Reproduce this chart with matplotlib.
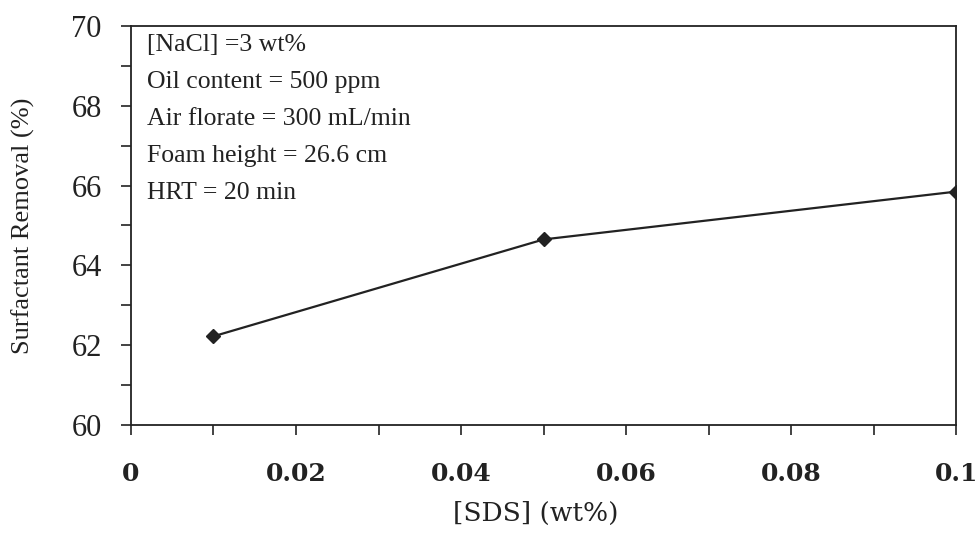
import matplotlib.pyplot as plt
from matplotlib.ticker import MultipleLocator

sds = [0.01, 0.05, 0.1]
removal = [62.22, 64.65, 65.85]

conditions = [
    "[NaCl] =3 wt%",
    "Oil content = 500 ppm",
    "Air florate = 300 mL/min",
    "Foam height = 26.6 cm",
    "HRT = 20 min",
]

plt.rcParams["font.family"] = "Liberation Serif"

fig = plt.figure(figsize=(9.77, 5.33), dpi=100)
ax = fig.add_axes([0.134, 0.203, 0.845, 0.748])

ax.plot(sds, removal, color="#222222", lw=1.6, marker="D", ms=7, mfc="#222222", mec="#222222")

ax.set_xlim(0, 0.1)
ax.set_ylim(60, 70)
ax.xaxis.set_minor_locator(MultipleLocator(0.01))
ax.yaxis.set_major_locator(MultipleLocator(2))
ax.yaxis.set_minor_locator(MultipleLocator(1))
ax.set_xticks([0, 0.02, 0.04, 0.06, 0.08, 0.1])
ax.set_xticklabels(["0", "0.02", "0.04", "0.06", "0.08", "0.1"], family="DejaVu Serif",
                   fontweight="semibold")

ax.tick_params(axis="both", which="both", direction="out", length=7, width=1.2, colors="#222222")
ax.tick_params(axis="y", labelsize=22, pad=14)
ax.tick_params(axis="x", labelsize=18, pad=20)
for s in ax.spines.values():
    s.set_linewidth(1.3)
    s.set_color("#222222")

ax.set_xlabel("[SDS] (wt%)", fontsize=19, family="DejaVu Serif", color="#222222")
ax.xaxis.set_label_coords(0.49, -0.19)
ax.set_ylabel("Surfactant Removal (%)", fontsize=19, labelpad=26, color="#222222")

ax.text(0.02, 0.98, "\n".join(conditions), transform=ax.transAxes, fontsize=18.5,
        va="top", ha="left", linespacing=1.88, color="#222222")

fig.savefig("out.png", dpi=100)
